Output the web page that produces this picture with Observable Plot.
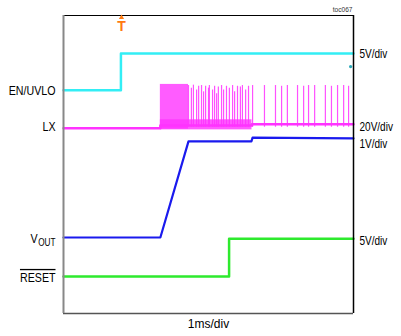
<!DOCTYPE html>
<html>
<head>
<meta charset="utf-8">
<script src="https://cdn.jsdelivr.net/npm/d3@7"></script>
<script src="https://cdn.jsdelivr.net/npm/@observablehq/plot@0.6"></script>
<style>
  html, body { margin: 0; padding: 0; background: #fff; }
  #chart { width: 401px; height: 336px; }
</style>
</head>
<body>
<div id="chart"></div>
<script>
// Time in ms (1 ms/div, 10 divisions), level in screen divisions (0..8)
const enTimes = [0, 1.98, 1.98, 10];
const enLevels = [5.99, 5.99, 6.98, 6.98];

const lxTimes = [0, 3.34, 3.34, 6.5, 6.5, 10];
const lxLevels = [4.97, 4.97, 5.05, 5.05, 5.08, 5.08];
const lxBurstStart = 3.34, lxBurstEnd = 4.31, lxBurstTop = 6.15;
const lxSpikeTimes = [4.31, 4.41, 4.48, 4.59, 4.66, 4.76, 4.83, 4.90, 5.00, 5.03, 5.14, 5.21, 5.28, 5.34, 5.45, 5.52, 5.62, 5.72, 5.83, 5.90, 6.00, 6.10, 6.17, 6.28, 6.38, 6.52,
  6.93, 7.31, 7.52, 7.72, 8.07, 8.28, 8.45, 8.66, 9.03, 9.24, 9.45, 9.66, 9.83];
const lxSpikeTops = [6.12, 6.05, 6.13, 6.0, 6.1, 6.12, 5.95, 6.1, 6.05, 6.12, 6.0, 6.1, 5.9, 6.08, 6.12, 6.0, 6.1, 6.05, 6.12, 5.95, 6.1, 6.08, 6.12, 6.0, 6.1, 6.12,
  6.12, 6.12, 6.1, 6.12, 6.12, 6.1, 6.12, 6.12, 6.12, 6.1, 6.12, 6.12, 6.1];

const voutTimes = [0, 3.34, 4.31, 6.48, 6.52, 10];
const voutLevels = [2.04, 2.04, 4.62, 4.62, 4.72, 4.70];

const resetTimes = [0, 5.71, 5.71, 10];
const resetLevels = [0.99, 0.99, 2.01, 2.01];

const triggerTime = 2.0;

const leftLabels = ["EN/UVLO", "LX", "RESET"];
const leftLevels = [5.99, 5.0, 0.96];
const rightLabels = ["5V/div", "20V/div", "1V/div", "5V/div"];
const rightLevels = [6.98, 5.0, 4.56, 1.96];

const colors = {en: "#33eef5", lx: "#ff33ff", vout: "#1a1aee", reset: "#2eea2e", trig: "#ff7a10"};

const pts = (ts, ls) => ts.map((t, i) => ({t, v: ls[i]}));
const spikes = lxSpikeTimes.map((t, i) => ({t, top: lxSpikeTops[i]}));

const font = "'Liberation Sans', Arial, sans-serif";

const plot = Plot.plot({
  width: 401,
  height: 336,
  marginLeft: 63,
  marginRight: 48,
  marginTop: 15,
  marginBottom: 23,
  x: {domain: [0, 10], axis: null},
  y: {domain: [0, 8], axis: null},
  style: {fontFamily: font, background: "#fff", overflow: "visible"},
  marks: [
    // LX burst
    Plot.rect([{x1: lxBurstStart, x2: lxBurstEnd, y1: 4.95, y2: lxBurstTop}], {x1: "x1", x2: "x2", y1: "y1", y2: "y2", fill: colors.lx, fillOpacity: 0.8}),
    Plot.rect([{x1: lxBurstStart, x2: 6.5, y1: 4.93, y2: 5.2}], {x1: "x1", x2: "x2", y1: "y1", y2: "y2", fill: colors.lx, fillOpacity: 0.8}),
    Plot.ruleX(spikes, {x: "t", y1: 5.0, y2: "top", stroke: colors.lx, strokeWidth: 1.2, strokeOpacity: 0.85}),
    Plot.line(pts(lxTimes, lxLevels), {x: "t", y: "v", stroke: colors.lx, strokeWidth: 2.5}),
    Plot.line(pts(enTimes, enLevels), {x: "t", y: "v", stroke: colors.en, strokeWidth: 2.5}),
    Plot.line(pts(voutTimes, voutLevels), {x: "t", y: "v", stroke: colors.vout, strokeWidth: 2.2}),
    Plot.line(pts(resetTimes, resetLevels), {x: "t", y: "v", stroke: colors.reset, strokeWidth: 2.5}),
    Plot.dot([{t: 9.9, v: 6.63}], {x: "t", y: "v", r: 1.6, fill: "#2aa8b8", stroke: null}),
    // frame
    Plot.ruleY([8], {stroke: "#000", strokeWidth: 1}),
    Plot.ruleY([0], {stroke: "#555", strokeWidth: 1.5}),
    Plot.ruleX([10], {stroke: "#000", strokeWidth: 1.5}),
    Plot.ruleX([0], {stroke: "#888", strokeWidth: 2}),
    // trigger marker
    Plot.dot([triggerTime], {x: d => d, y: 8, symbol: "triangle2", r: 2.5, fill: colors.trig, stroke: null, dy: 2}),
    Plot.text([triggerTime], {x: d => d, y: 8, text: () => "T", fill: colors.trig, fontWeight: "bold", fontSize: 14, dy: 11}),
    // labels
    Plot.text(leftLabels, {text: d => d, y: (d, i) => leftLevels[i], frameAnchor: "left", textAnchor: "end", dx: -8, fontSize: 13, fill: "#000"}),
    Plot.text(["V"], {text: d => d, y: 2.0, frameAnchor: "left", textAnchor: "end", dx: -26, fontSize: 13, fill: "#000"}),
    Plot.text(["OUT"], {text: d => d, y: 2.0, frameAnchor: "left", textAnchor: "end", dx: -8, dy: 4, fontSize: 10, fill: "#000"}),
    Plot.text(rightLabels, {text: d => d, y: (d, i) => rightLevels[i], frameAnchor: "right", textAnchor: "start", dx: 6, fontSize: 13, fill: "#000"}),
    Plot.text(["toc067"], {text: d => d, frameAnchor: "top-right", textAnchor: "end", dx: -1, dy: -9, fontSize: 8, fill: "#333"}),
    Plot.text(["1ms/div"], {text: d => d, frameAnchor: "bottom", dy: 14, fontSize: 12, fill: "#000"})
  ]
});

document.getElementById("chart").appendChild(plot);

// emulate the narrow typeface of the original
const narrowLeft = new Set([...leftLabels, "V", "OUT", "toc067"]);
const narrowRight = new Set(rightLabels);
d3.select(plot).selectAll("text").each(function() {
  const s = this.textContent;
  if (s === "RESET") this.style.textDecoration = "overline";
  const k = narrowLeft.has(s) ? 0.82 : narrowRight.has(s) ? 0.77 : 0;
  if (k) {
    const w = this.getComputedTextLength();
    this.setAttribute("textLength", (w * k).toFixed(2));
    this.setAttribute("lengthAdjust", "spacingAndGlyphs");
  }
});
</script>
</body>
</html>
